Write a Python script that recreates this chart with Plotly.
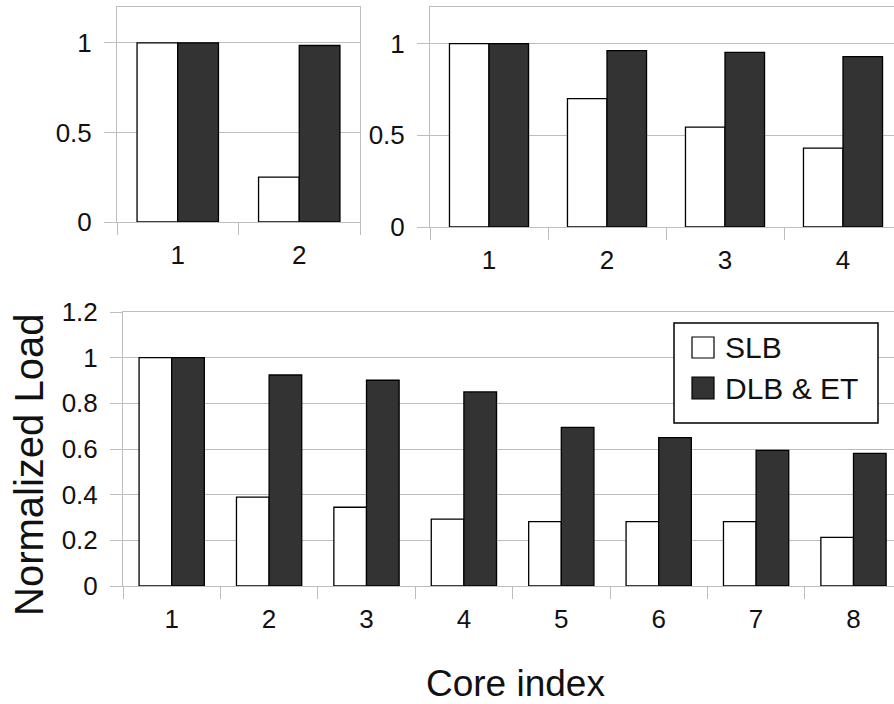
import plotly.graph_objects as go

# ---------------- data ----------------
cats_2 = ["1", "2"]
slb_2 = [1.0, 0.25]
dlb_2 = [1.0, 0.985]

cats_4 = ["1", "2", "3", "4"]
slb_4 = [1.0, 0.70, 0.545, 0.43]
dlb_4 = [1.0, 0.962, 0.952, 0.929]

cats_8 = ["1", "2", "3", "4", "5", "6", "7", "8"]
slb_8 = [1.0, 0.389, 0.345, 0.293, 0.282, 0.282, 0.282, 0.213]
dlb_8 = [1.0, 0.924, 0.901, 0.85, 0.695, 0.65, 0.594, 0.581]

series_names = ["SLB", "DLB & ET"]
y_title = "Normalized Load"
x_title = "Core index"

# ---------------- layout helpers ----------------
W, H = 894, 704
FONT = "Liberation Sans, Arial, sans-serif"
GRID = "#bdbdbd"
DARK = "#333333"


def px_x(p):
    return p / W


def px_y(p):
    return 1 - p / H


fig = go.Figure()

panels = [
    (cats_2, slb_2, dlb_2, "x", "y"),
    (cats_4, slb_4, dlb_4, "x2", "y2"),
    (cats_8, slb_8, dlb_8, "x3", "y3"),
]
for cats, slb, dlb, xa, ya in panels:
    fig.add_trace(go.Bar(x=cats, y=slb, name=series_names[0], xaxis=xa, yaxis=ya,
                         marker=dict(color="white", line=dict(color="black", width=1.3)),
                         showlegend=False))
    fig.add_trace(go.Bar(x=cats, y=dlb, name=series_names[1], xaxis=xa, yaxis=ya,
                         marker=dict(color=DARK, line=dict(color="black", width=1.3)),
                         showlegend=False))


def xaxis_cfg(domain, rng, anchor):
    return dict(domain=domain, range=rng, anchor=anchor, type="category",
                tickson="boundaries", ticks="outside", ticklen=12, tickcolor=GRID,
                tickwidth=1, showgrid=False, showline=True, linecolor=GRID, linewidth=1,
                mirror=True, tickfont=dict(family=FONT, size=26, color="#111111"),
                ticklabelstandoff=10, zeroline=False, fixedrange=True, automargin=False)


def yaxis_cfg(domain, tickvals, ticktext, anchor):
    return dict(domain=domain, range=[0, 1.2], anchor=anchor, tickvals=tickvals,
                ticktext=ticktext, ticks="outside", ticklen=12, tickcolor=GRID,
                showgrid=True, gridcolor=GRID, gridwidth=1, showline=True,
                linecolor=GRID, linewidth=1, mirror=True, zeroline=False,
                tickfont=dict(family=FONT, size=26, color="#111111"),
                ticklabelstandoff=7, fixedrange=True, automargin=False)


# top-left panel
x1_dom = [px_x(117), px_x(360)]
y1_dom = [px_y(222), px_y(7)]
# top-right panel (cut off at right edge)
x2_dom = [px_x(430), 1.0]
y2_dom = [px_y(227), px_y(7)]
x2_end = -0.5 + (W - 430) / 118.0
# bottom panel (cut off at right edge)
x3_dom = [px_x(123), 1.0]
y3_dom = [px_y(586), px_y(312)]
x3_end = -0.5 + (W - 123) / 97.4

fig.update_layout(
    template="none",
    width=W, height=H,
    margin=dict(l=0, r=0, t=0, b=0, pad=0),
    paper_bgcolor="white", plot_bgcolor="white",
    barmode="group", bargap=0.33, bargroupgap=0,
    showlegend=False,
    xaxis=xaxis_cfg(x1_dom, [-0.5, 1.5], "y"),
    yaxis=yaxis_cfg(y1_dom, [0, 0.5, 1], ["0", "0.5", "1"], "x"),
    xaxis2=xaxis_cfg(x2_dom, [-0.5, x2_end], "y2"),
    yaxis2=yaxis_cfg(y2_dom, [0, 0.5, 1], ["0", "0.5", "1"], "x2"),
    xaxis3=xaxis_cfg(x3_dom, [-0.5, x3_end], "y3"),
    yaxis3=yaxis_cfg(y3_dom, [0, 0.2, 0.4, 0.6, 0.8, 1.0, 1.2],
                     ["0", "0.2", "0.4", "0.6", "0.8", "1", "1.2"], "x3"),
)

# axis titles
fig.add_annotation(text=x_title, x=px_x(515), y=px_y(683), xref="paper", yref="paper",
                   showarrow=False, xanchor="center", yanchor="middle", borderpad=0,
                   font=dict(family=FONT, size=37, color="#111111"))
fig.add_annotation(text=y_title, x=px_x(29), y=px_y(465), xref="paper", yref="paper",
                   showarrow=False, textangle=-90, xanchor="center", yanchor="middle",
                   font=dict(family=FONT, size=40, color="#111111"))

# legend (drawn as a boxed key)
fig.add_shape(type="rect", xref="paper", yref="paper",
              x0=px_x(674), x1=px_x(878), y0=px_y(423), y1=px_y(323),
              line=dict(color="black", width=1.5), fillcolor="white", layer="above")
fig.add_shape(type="rect", xref="paper", yref="paper",
              x0=px_x(692), x1=px_x(714), y0=px_y(358), y1=px_y(337),
              line=dict(color="black", width=1.2), fillcolor="white", layer="above")
fig.add_shape(type="rect", xref="paper", yref="paper",
              x0=px_x(692), x1=px_x(714), y0=px_y(399), y1=px_y(377),
              line=dict(color="black", width=1.2), fillcolor=DARK, layer="above")
for name, yc in zip(series_names, [347, 388]):
    fig.add_annotation(text=name, x=px_x(723), y=px_y(yc), xref="paper", yref="paper",
                       showarrow=False, xanchor="left", yanchor="middle",
                       font=dict(family=FONT, size=30, color="#111111"))

fig.write_html(
    "out.html",
    config={"displayModeBar": False},
    post_script="document.body.style.margin='0';document.body.style.overflow='hidden';",
)
